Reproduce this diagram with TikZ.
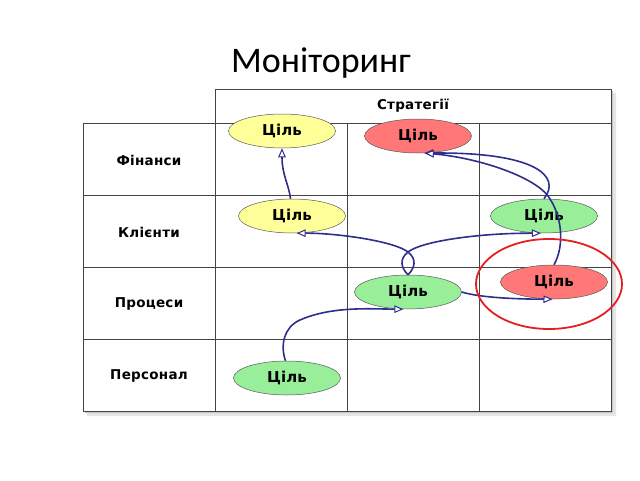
\documentclass[tikz,border=0pt]{standalone}
\usepackage{fontspec}
\usetikzlibrary{shapes.geometric,arrows.meta}
\newfontfamily\titlefont{Carlito}
\newfontfamily\labfont{DejaVu Sans}[LetterSpace=2]
\newfontfamily\goalfont{DejaVu Sans}
\definecolor{goalY}{HTML}{FFFF99}
\definecolor{goalR}{HTML}{FF7777}
\definecolor{goalG}{HTML}{99EE99}
\definecolor{linkB}{RGB}{46,46,140}
\definecolor{ringR}{RGB}{230,30,35}
\definecolor{gridC}{HTML}{444444}
\begin{document}
\begin{tikzpicture}[x=1pt,y=-1pt,
  grid/.style={draw=gridC,line width=0.8pt},
  rowlab/.style={font=\fontsize{13.5}{16}\labfont\bfseries,inner sep=0pt},
  goal/.style={ellipse,draw=black!65,line width=0.5pt,minimum width=107pt,minimum height=34pt,inner sep=0pt,font=\fontsize{15}{18}\goalfont\bfseries},
  link/.style={draw=linkB,line width=1.6pt,-{Triangle[length=9pt,width=7.5pt,fill=white,line width=1pt]}},
  ring/.style={ellipse,draw=ringR,line width=1.8pt,minimum width=146pt,minimum height=90pt,inner sep=0pt}]
\useasboundingbox (0,0) rectangle (640,480);
% title
\node[font=\fontsize{36}{40}\titlefont,anchor=base,inner sep=0pt] (title) at (321,72) {Моніторинг};
% shadow
\fill[gray!20] (87,127) -- (219,127) -- (219,93) -- (616,93) -- (616,416) -- (87,416) -- cycle;
\fill[gray!45] (85,125) -- (217,125) -- (217,91) -- (613,91) -- (613,413) -- (85,413) -- cycle;
\fill[white] (83,123) -- (215,123) -- (215,89) -- (611,89) -- (611,411) -- (83,411) -- cycle;
% grid
\draw[grid] (215,89) rectangle (611,123);
\draw[grid] (83,123) rectangle (611,411);
\draw[grid] (215,123) -- (215,411);
\draw[grid] (347,123) -- (347,411);
\draw[grid] (479,123) -- (479,411);
\draw[grid] (83,195) -- (611,195);
\draw[grid] (83,267) -- (611,267);
\draw[grid] (83,339) -- (611,339);
% labels
\node[rowlab] (strat) at (413,106) {Стратегії};
\node[rowlab] (fin) at (149,160) {Фінанси};
\node[rowlab] (cli) at (149,232) {Клієнти};
\node[rowlab] (pro) at (149,304) {Процеси};
\node[rowlab] (per) at (149,376) {Персонал};
% goals
\node[goal,fill=goalY] (fy) at (282,131) {Ціль};
\node[goal,fill=goalR] (fr) at (418,136) {Ціль};
\node[goal,fill=goalY] (cy) at (292,216) {Ціль};
\node[goal,fill=goalG] (cg) at (544,216) {Ціль};
\node[goal,fill=goalG] (pg) at (408,292) {Ціль};
\node[goal,fill=goalR] (pr) at (554,282) {Ціль};
\node[goal,fill=goalG] (sg) at (287,378) {Ціль};
% links
\draw[link] (cy.95) .. controls (289,185) and (282,175) .. (fy.south);
\draw[link] (pg.north) .. controls (415,268) and (417,259) .. (408,252)
   .. controls (394,241) and (336,233) .. (cy.-75);
\draw[link] (pg.north) .. controls (401,268) and (399,259) .. (408,252)
   .. controls (422,241) and (480,233) .. (cg.-100);
\draw[link] (pg.east) .. controls (475,296) and (500,299) .. (pr.-95);
\draw[link] (sg.95) .. controls (280,345) and (284,327) .. (300,320)
   .. controls (332,306) and (370,309) .. (pg.-105);
\draw[link] (cg.north) .. controls (562,176) and (535,152) .. (fr.-70);
\draw[link] (pr.north) .. controls (565,245) and (562,215) .. (548,196)
   .. controls (534,177) and (480,158) .. (fr.-68);
% highlight
\node[ring] (hl) at (549,284) {};
\end{tikzpicture}
\end{document}
